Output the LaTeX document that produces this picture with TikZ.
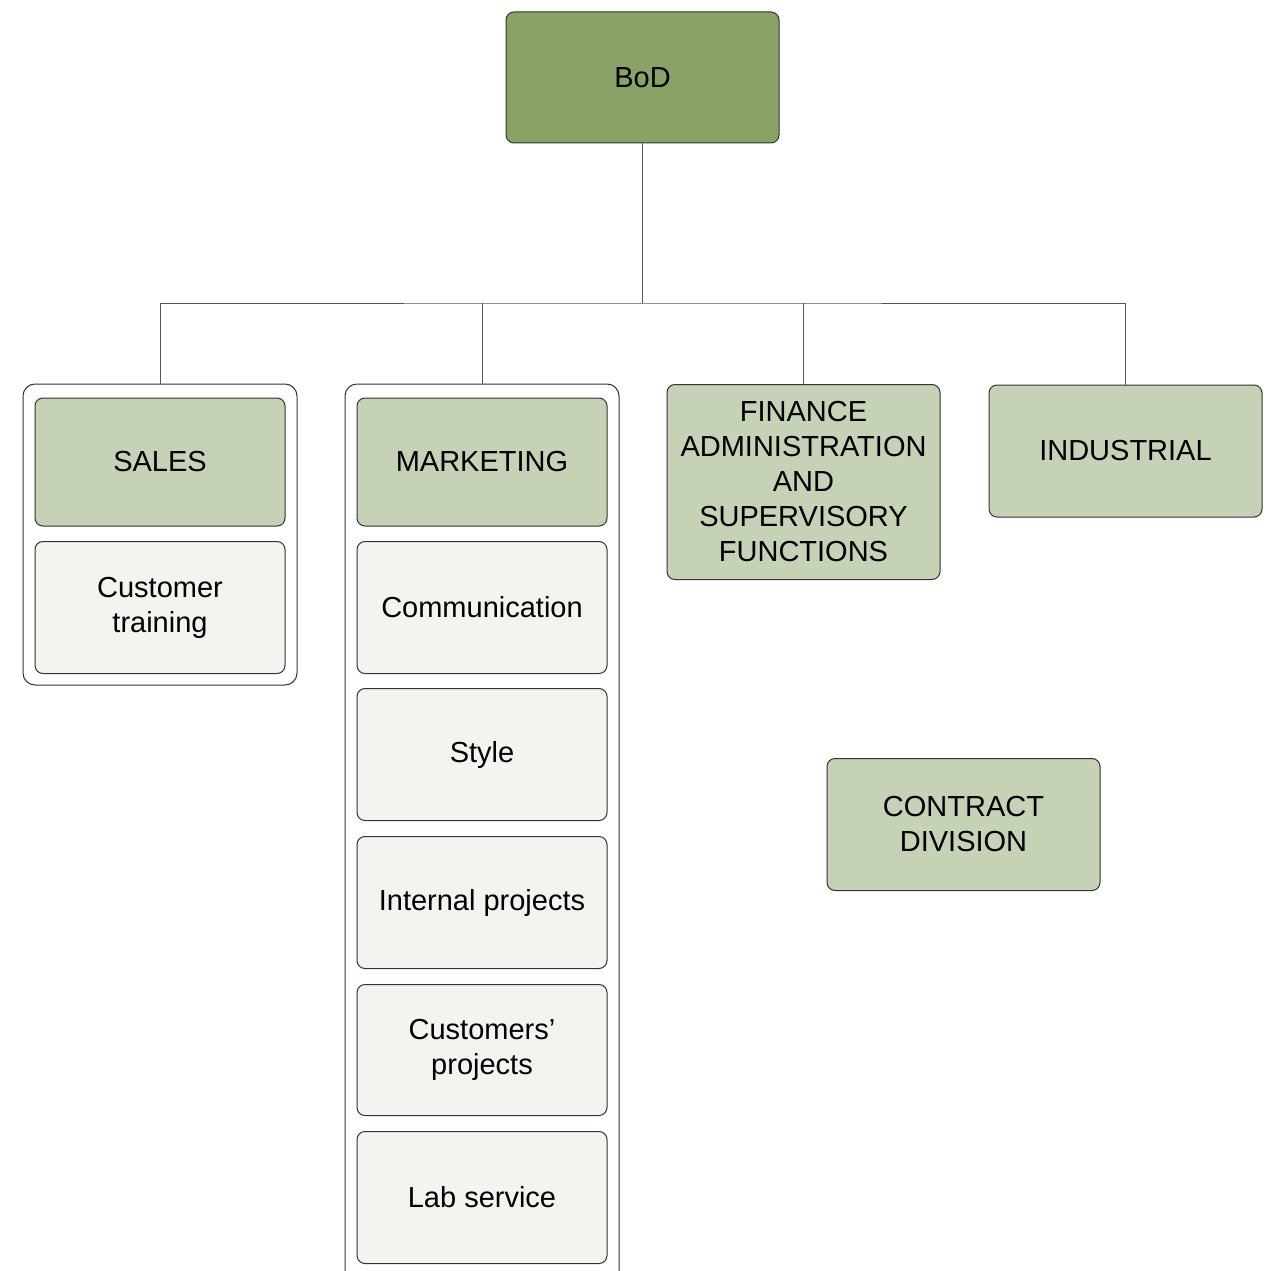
\documentclass[tikz,border=0pt]{standalone}
\usepackage{fontspec}
\setmainfont{Liberation Sans}
\definecolor{topgreen}{HTML}{88A267}
\definecolor{midgreen}{HTML}{C5D2B5}
\definecolor{palegreen}{HTML}{F2F5EF}
\definecolor{edgegray}{HTML}{333333}
\definecolor{linegray}{HTML}{555555}
\begin{document}
\begin{tikzpicture}[x=1pt,y=-1pt,
  orgbox/.style={draw=edgegray, line width=1pt, rounded corners=8pt, align=center,
    inner sep=0pt, minimum width=250pt, minimum height=130pt,
    font=\fontsize{29}{35}\selectfont},
  topbox/.style={orgbox, fill=topgreen, minimum width=273pt, minimum height=131pt},
  headbox/.style={orgbox, fill=midgreen},
  unitbox/.style={orgbox, fill=midgreen, minimum width=273pt, minimum height=132pt},
  subbox/.style={orgbox, fill=palegreen, minimum height=132pt},
  groupbox/.style={draw=edgegray, line width=1pt, rounded corners=12pt, fill=white,
    inner sep=0pt, minimum width=274pt},
  link/.style={draw=linegray, line width=1pt}
]
\useasboundingbox (0,0) rectangle (1278,1271);

% top
\node[topbox] (bod) at (642.5,77.5) {BoD};

% group containers
\node[groupbox, minimum height=301pt] (salesgrp) at (160,534.5) {};
\node[groupbox, minimum height=900pt] (mktgrp) at (482,834) {};

% sales
\node[headbox, minimum height=128pt] (sales) at (160,462) {SALES};
\node[subbox] (custtrain) at (160,607.5) {Customer\\training};

% marketing
\node[headbox, minimum height=128pt] (mkt) at (482,462) {MARKETING};
\node[subbox] (comm) at (482,607.5) {Communication};
\node[subbox] (style) at (482,754.5) {Style};
\node[subbox] (internal) at (482,902.5) {Internal projects};
\node[subbox, minimum height=131pt] (custproj) at (482,1050) {Customers’\\projects};
\node[subbox] (lab) at (482,1197.5) {Lab service};

% other units
\node[unitbox, minimum height=195pt] (fin) at (803.5,482)
  {FINANCE\\ADMINISTRATION\\AND\\SUPERVISORY\\FUNCTIONS};
\node[unitbox] (ind) at (1125.5,451) {INDUSTRIAL};
\node[unitbox] (contract) at (963.5,824.5) {CONTRACT\\DIVISION};

% connectors
\coordinate (bus) at (642.5,303);
\draw[link] (bod.south) -- (bus);
\draw[link] (salesgrp.north) |- (bus) -| (ind.north);
\draw[link] (mktgrp.north) -- (mktgrp.north |- bus);
\draw[link] (fin.north) -- (fin.north |- bus);
\end{tikzpicture}
\end{document}
